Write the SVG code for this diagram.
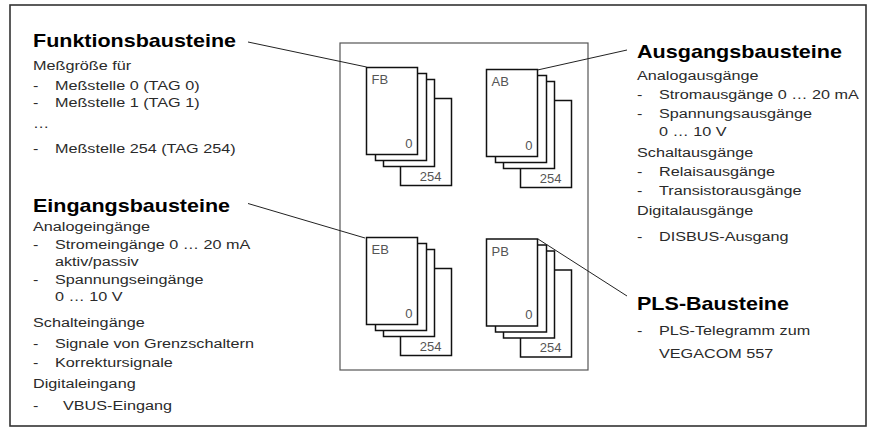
<svg xmlns="http://www.w3.org/2000/svg" width="875" height="436" viewBox="0 0 875 436">
<style>
.title{font-family:"Liberation Sans",Arial,sans-serif;font-weight:bold;font-size:18.5px;fill:#000}
.body{font-family:"Liberation Sans",Arial,sans-serif;font-size:13.5px;fill:#2a2a2a}
.lbl{font-family:"Liberation Sans",Arial,sans-serif;font-size:13px;fill:#555}
.card{fill:#fff;stroke:#111;stroke-width:1.5}
.conn{stroke:#222;stroke-width:1;fill:none}
</style>
<defs>
<g id="stack">
<rect class="card" x="34" y="31" width="51" height="87"/>
<rect class="card" x="17" y="12" width="51" height="87"/>
<rect class="card" x="9" y="6" width="51" height="87"/>
<rect class="card" x="0" y="0" width="51" height="87"/>
<text class="lbl" x="46" y="80" text-anchor="end">0</text>
<text class="lbl" x="75" y="113" text-anchor="end">254</text>
</g>
</defs>
<rect x="10" y="5" width="856" height="421" fill="#fff" stroke="#333" stroke-width="1.6"/>
<rect x="340" y="43" width="248" height="327" fill="none" stroke="#555" stroke-width="1.2"/>

<g id="FB">
<use href="#stack" x="366.5" y="67.5"/>
<text class="lbl" x="371.5" y="84">FB</text>
</g>
<g id="AB">
<use href="#stack" x="486.5" y="69.5"/>
<text class="lbl" x="491.5" y="86">AB</text>
</g>
<g id="EB">
<use href="#stack" x="366.5" y="237.5"/>
<text class="lbl" x="371.5" y="254">EB</text>
</g>
<g id="PB">
<use href="#stack" x="486.5" y="239"/>
<text class="lbl" x="491.5" y="255.5">PB</text>
</g>

<g id="connectors">
<line class="conn" x1="248" y1="42" x2="366.5" y2="67"/>
<line class="conn" x1="248" y1="203.5" x2="365" y2="238"/>
<line class="conn" x1="627" y1="50" x2="537.5" y2="70"/>
<line class="conn" x1="627" y1="296" x2="538" y2="239"/>
</g>

<g id="Funktionsbausteine">
<text class="title" x="33" y="47" textLength="203" lengthAdjust="spacingAndGlyphs">Funktionsbausteine</text>
<g transform="translate(33,0) scale(1.2,1)">
<text class="body" x="0" y="70">Meßgröße für</text>
<text class="body" x="0" y="90">-</text><text class="body" x="18.3" y="90">Meßstelle 0 (TAG 0)</text>
<text class="body" x="0" y="107">-</text><text class="body" x="18.3" y="107">Meßstelle 1 (TAG 1)</text>
<text class="body" x="0" y="128">…</text>
<text class="body" x="0" y="153">-</text><text class="body" x="18.3" y="153">Meßstelle 254 (TAG 254)</text>
</g>
</g>

<g id="Eingangsbausteine">
<text class="title" x="33" y="212" textLength="197" lengthAdjust="spacingAndGlyphs">Eingangsbausteine</text>
<g transform="translate(33,0) scale(1.2,1)">
<text class="body" x="0" y="231">Analogeingänge</text>
<text class="body" x="0" y="249">-</text><text class="body" x="18.3" y="249">Stromeingänge 0 … 20 mA</text>
<text class="body" x="18.3" y="266">aktiv/passiv</text>
<text class="body" x="0" y="284">-</text><text class="body" x="18.3" y="284">Spannungseingänge</text>
<text class="body" x="18.3" y="301">0 … 10 V</text>
<text class="body" x="0" y="327">Schalteingänge</text>
<text class="body" x="0" y="348">-</text><text class="body" x="18.3" y="348">Signale von Grenzschaltern</text>
<text class="body" x="0" y="367">-</text><text class="body" x="18.3" y="367">Korrektursignale</text>
<text class="body" x="0" y="388">Digitaleingang</text>
<text class="body" x="0" y="410">-</text><text class="body" x="25" y="410">VBUS-Eingang</text>
</g>
</g>

<g id="Ausgangsbausteine">
<text class="title" x="637" y="58" textLength="205" lengthAdjust="spacingAndGlyphs">Ausgangsbausteine</text>
<g transform="translate(637,0) scale(1.2,1)">
<text class="body" x="0" y="80">Analogausgänge</text>
<text class="body" x="0" y="99">-</text><text class="body" x="18.3" y="99">Stromausgänge 0 … 20 mA</text>
<text class="body" x="0" y="118">-</text><text class="body" x="18.3" y="118">Spannungsausgänge</text>
<text class="body" x="18.3" y="136">0 … 10 V</text>
<text class="body" x="0" y="157">Schaltausgänge</text>
<text class="body" x="0" y="176">-</text><text class="body" x="18.3" y="176">Relaisausgänge</text>
<text class="body" x="0" y="195">-</text><text class="body" x="18.3" y="195">Transistorausgänge</text>
<text class="body" x="0" y="215">Digitalausgänge</text>
<text class="body" x="0" y="241">-</text><text class="body" x="18.3" y="241">DISBUS-Ausgang</text>
</g>
</g>

<g id="PLS-Bausteine">
<text class="title" x="637" y="310" textLength="152" lengthAdjust="spacingAndGlyphs">PLS-Bausteine</text>
<g transform="translate(637,0) scale(1.2,1)">
<text class="body" x="0" y="335">-</text><text class="body" x="18.3" y="335">PLS-Telegramm zum</text>
<text class="body" x="18.3" y="358">VEGACOM 557</text>
</g>
</g>
</svg>
